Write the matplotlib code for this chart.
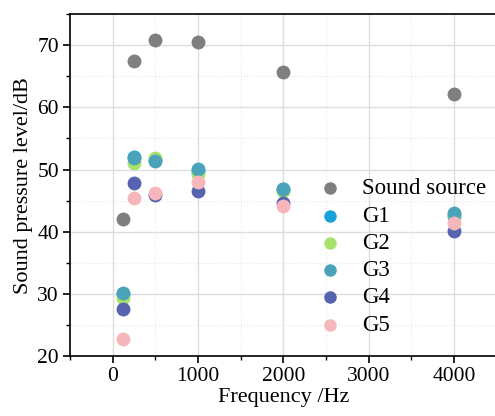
import matplotlib
matplotlib.use("Agg")
import matplotlib.pyplot as plt
from matplotlib.ticker import MultipleLocator

freqs = [125, 250, 500, 1000, 2000, 4000]
sound_source = [42.1, 67.5, 70.8, 70.6, 65.7, 62.1]
g1 = [30.0, 52.0, 51.5, 49.8, 46.8, 42.6]
g2 = [29.3, 51.1, 51.8, 49.3, 46.5, 42.8]
g3 = [30.2, 51.9, 51.4, 50.1, 46.9, 43.0]
g4 = [27.5, 47.9, 45.9, 46.5, 44.7, 40.2]
g5 = [22.7, 45.5, 46.2, 48.0, 44.2, 41.4]

labels = ["Sound source", "G1", "G2", "G3", "G4", "G5"]
colors = ["#7f7f7f", "#1aa2d8", "#a9e26b", "#4ba3b9", "#5663ae", "#f6b7bc"]
series = [sound_source, g1, g2, g3, g4, g5]

plt.rcParams["font.family"] = ["Liberation Serif", "DejaVu Serif"]

fig = plt.figure(figsize=(4.95, 4.16), dpi=100)
ax = fig.add_axes([0.1414, 0.144, 0.862, 0.822])

for vals, lab, col in zip(series, labels, colors):
    ax.scatter(freqs, vals, s=100, color=col, label=lab, zorder=3, linewidths=0)

ax.set_xlim(-500, 4500)
ax.set_ylim(20, 75)
ax.xaxis.set_major_locator(MultipleLocator(1000))
ax.xaxis.set_minor_locator(MultipleLocator(500))
ax.yaxis.set_major_locator(MultipleLocator(10))
ax.yaxis.set_minor_locator(MultipleLocator(5))

ax.grid(which="major", color="#dddddd", linewidth=1.0, zorder=0)
ax.grid(which="minor", color="#e8e8e8", linewidth=0.8, linestyle=":", zorder=0)
ax.set_axisbelow(True)

ax.tick_params(which="major", direction="out", length=5, width=1.2, labelsize=15.5, pad=3)
ax.tick_params(which="minor", direction="out", length=3, width=1.0)
for sp in ["left", "bottom", "top"]:
    ax.spines[sp].set_linewidth(1.2)
ax.spines["right"].set_visible(False)

ax.set_xlabel("Frequency /Hz", fontsize=16, labelpad=1)
ax.set_ylabel("Sound pressure level/dB", fontsize=16, labelpad=3)

ax.legend(loc="center left", bbox_to_anchor=(0.56, 0.29), frameon=False,
          fontsize=16.5, handlelength=1.0, handletextpad=0.9, labelspacing=0.27,
          markerscale=0.9, borderaxespad=0)

fig.savefig("out.png", dpi=100)
